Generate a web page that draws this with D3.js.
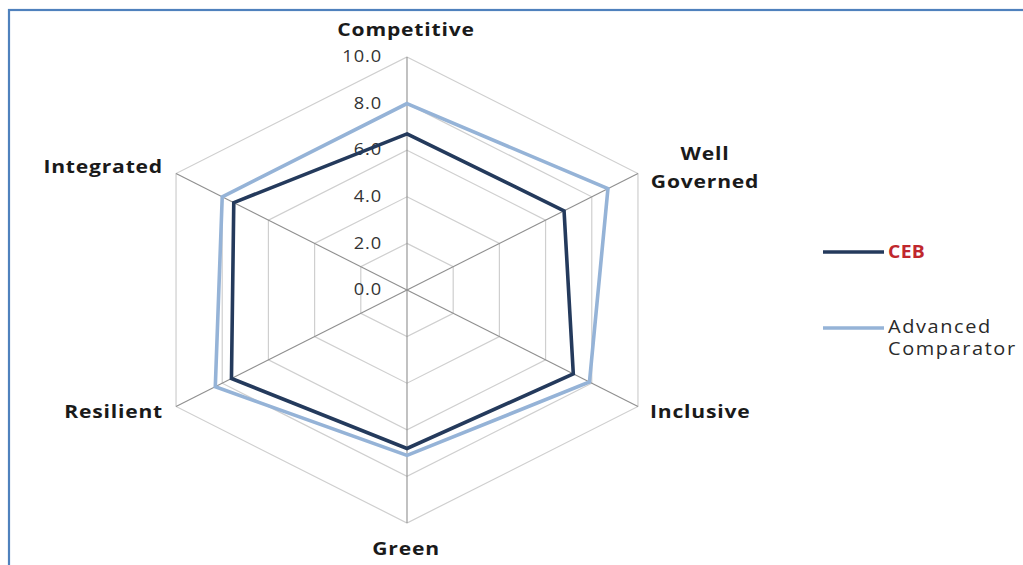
<!DOCTYPE html>
<html>
<head>
<meta charset="utf-8">
<script src="https://cdn.jsdelivr.net/npm/d3@7"></script>
<style>
  html, body { margin: 0; padding: 0; background: #ffffff; }
  svg { display: block; }
</style>
</head>
<body>
<svg id="chart" width="1023" height="565"></svg>
<script>
// ---- data ----
const axes = ["Competitive", "Well Governed", "Inclusive", "Green", "Resilient", "Integrated"];
const ceb = [6.7, 6.8, 7.2, 6.8, 7.6, 7.5];
const advanced = [8.0, 8.7, 7.9, 7.1, 8.3, 8.0];
const seriesNames = ["CEB", "Advanced Comparator"];
const ticks = [0, 2, 4, 6, 8, 10];

// ---- layout ----
const cx = 407, cy = 290;
const rx = 266.7, ry = 233;
const SX = 1.14; // horizontal stretch of text, as in the reference
const FONT = "'Open Sans', Lato, sans-serif";
const svg = d3.select("#chart");

svg.append("rect").attr("x", 9).attr("y", 10).attr("width", 1040).attr("height", 600)
  .attr("fill", "none").attr("stroke", "#4f81bd").attr("stroke-width", 2.2);

const r = d3.scaleLinear().domain([0, 10]).range([0, 1]);
const angle = d3.scalePoint().domain(axes).range([0, 2 * Math.PI * (axes.length - 1) / axes.length]);
const px = (name, v) => cx + rx * r(v) * Math.sin(angle(name));
const py = (name, v) => cy - ry * r(v) * Math.cos(angle(name));

const line = d3.line().x(d => px(d[0], d[1])).y(d => py(d[0], d[1])).curve(d3.curveLinearClosed);
const place = (x, y) => `translate(${x},${y}) scale(${SX},1)`;

// grid hexagons
const g = svg.append("g");
g.selectAll("path.grid").data(ticks.filter(t => t > 0)).join("path")
  .attr("class", "grid")
  .attr("d", t => line(axes.map(a => [a, t])))
  .attr("fill", "none").attr("stroke", "#cfcfcf").attr("stroke-width", 1.2);

// spokes
g.selectAll("line.spoke").data(axes).join("line")
  .attr("class", "spoke")
  .attr("x1", cx).attr("y1", cy)
  .attr("x2", a => px(a, 10)).attr("y2", a => py(a, 10))
  .attr("stroke", "#8f8f8f").attr("stroke-width", 1.1);

// tick labels
g.selectAll("text.tick").data(ticks).join("text")
  .attr("class", "tick")
  .attr("transform", t => place(cx - 25, py(axes[0], t) + 1))
  .attr("text-anchor", "end").attr("dominant-baseline", "middle")
  .attr("font-family", FONT).attr("font-size", 16)
  .attr("letter-spacing", 0.8)
  .attr("fill", "#333")
  .text(t => t.toFixed(1));

// series
const colors = ["#243a5c", "#95b3d7"];
const data = [advanced, ceb];
const dataColors = [colors[1], colors[0]];
svg.selectAll("path.series").data(data).join("path")
  .attr("class", "series")
  .attr("d", vals => line(axes.map((a, i) => [a, vals[i]])))
  .attr("fill", "none")
  .attr("stroke", (d, i) => dataColors[i])
  .attr("stroke-width", 3.6)
  .attr("stroke-linejoin", "miter");

// axis labels
const labelPos = {
  "Competitive": {x: 406, y: 36, anchor: "middle"},
  "Well Governed": {x: 705, y: 160, anchor: "middle"},
  "Inclusive": {x: 650, y: 418, anchor: "start"},
  "Green": {x: 406, y: 555, anchor: "middle"},
  "Resilient": {x: 163, y: 418, anchor: "end"},
  "Integrated": {x: 163, y: 173, anchor: "end"}
};
const lab = svg.selectAll("text.axis").data(axes).join("text")
  .attr("class", "axis")
  .attr("transform", a => place(labelPos[a].x, labelPos[a].y))
  .attr("text-anchor", a => labelPos[a].anchor)
  .attr("font-family", FONT).attr("font-weight", "bold")
  .attr("font-size", 18.5).attr("letter-spacing", 0.7)
  .attr("fill", "#1a1a1a");
lab.each(function(a) {
  const t = d3.select(this);
  if (a === "Well Governed") {
    t.append("tspan").attr("x", 0).attr("dy", 0).text("Well");
    t.append("tspan").attr("x", 0).attr("dy", 28).text("Governed");
  } else {
    t.text(a);
  }
});

// legend
const leg = svg.append("g");
const legY = [252, 328];
leg.selectAll("line").data(seriesNames).join("line")
  .attr("x1", 823).attr("x2", 884)
  .attr("y1", (d, i) => legY[i]).attr("y2", (d, i) => legY[i])
  .attr("stroke", (d, i) => colors[i]).attr("stroke-width", 3.6);
leg.append("text").attr("transform", place(888, 258))
  .attr("font-family", FONT).attr("font-size", 17).attr("font-weight", "bold")
  .attr("letter-spacing", 0.3)
  .attr("fill", "#c0272d").text(seriesNames[0]);
const t2 = leg.append("text").attr("transform", place(888, 333))
  .attr("font-family", FONT).attr("font-size", 17.5)
  .attr("letter-spacing", 1.4)
  .attr("fill", "#2a2a2a");
t2.append("tspan").attr("x", 0).attr("dy", 0).text("Advanced");
t2.append("tspan").attr("x", 0).attr("dy", 22).text("Comparator");
</script>
</body>
</html>
